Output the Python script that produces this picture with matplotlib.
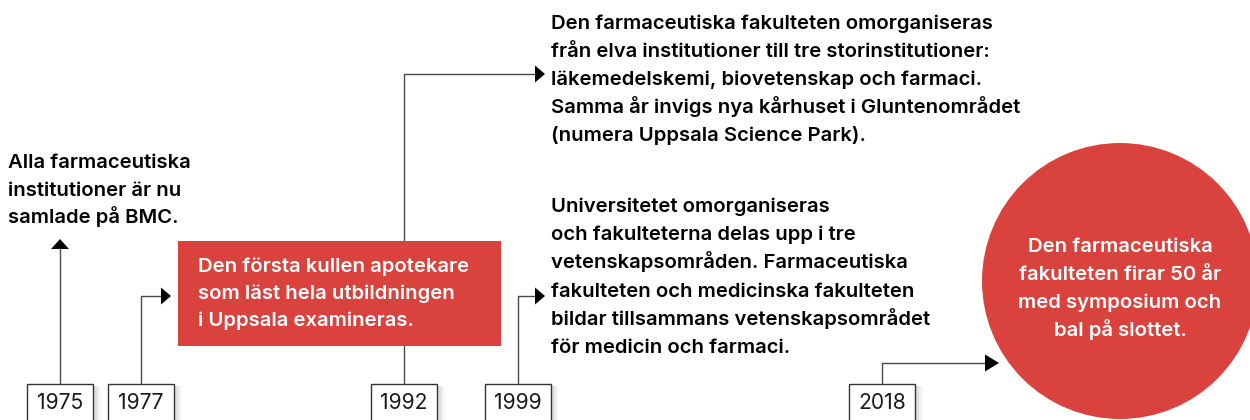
import matplotlib
matplotlib.use("Agg")
import matplotlib.pyplot as plt
from matplotlib.patches import Rectangle, Circle, Polygon

# ---- content ----
years = ["1975", "1977", "1992", "1999", "2018"]

text_1975 = ["Alla farmaceutiska", "institutioner är nu", "samlade på BMC."]
text_1977 = ["Den första kullen apotekare", "som läst hela utbildningen", "i Uppsala examineras."]
text_1992 = ["Den farmaceutiska fakulteten omorganiseras",
             "från elva institutioner till tre storinstitutioner:",
             "läkemedelskemi, biovetenskap och farmaci.",
             "Samma år invigs nya kårhuset i Gluntenområdet",
             "(numera Uppsala Science Park)."]
text_1999 = ["Universitetet omorganiseras",
             "och fakulteterna delas upp i tre",
             "vetenskapsområden. Farmaceutiska",
             "fakulteten och medicinska fakulteten",
             "bildar tillsammans vetenskapsområdet",
             "för medicin och farmaci."]
text_2018 = ["Den farmaceutiska", "fakulteten firar 50 år",
             "med symposium och", "bal på slottet."]

# ---- layout (pixel coordinates) ----
RED = "#D9423D"
LINE = "#4a4a4a"
FONT = ["Inter", "DejaVu Sans"]
FS = 14.6
WEIGHT = "semibold"
box_cx = [60, 141, 404, 518, 882]
box_w, box_top = 66, 384

fig = plt.figure(figsize=(12.5, 4.2), dpi=100)
ax = fig.add_axes([0, 0, 1, 1])
ax.set_xlim(0, 1250)
ax.set_ylim(420, 0)
ax.axis("off")


def head(tip, direction, length=10, half=8.5):
    x, y = tip
    if direction == "right":
        pts = [(x, y), (x - length, y - half), (x - length, y + half)]
    else:  # up
        pts = [(x, y), (x - half, y + length), (x + half, y + length)]
    ax.add_patch(Polygon(pts, closed=True, color="black", lw=0, zorder=5))


def lines(block, x, y0, dy, **kw):
    for i, s in enumerate(block):
        ax.text(x, y0 + i * dy, s, fontsize=FS, family=FONT, weight=WEIGHT,
                va="baseline", **kw)

# connectors
ax.plot([box_cx[0], box_cx[0]], [box_top, 248], color=LINE, lw=1.0, zorder=3)
head((box_cx[0], 239), "up", length=10, half=9)
ax.plot([box_cx[1], box_cx[1], 162], [box_top, 296, 296], color=LINE, lw=1.0, zorder=3)
head((171, 296), "right")
ax.plot([box_cx[2], box_cx[2], 536], [box_top, 74, 74], color=LINE, lw=1.0, zorder=1)
head((545, 74), "right")
ax.plot([box_cx[3], box_cx[3], 536], [box_top, 296, 296], color=LINE, lw=1.0, zorder=3)
head((545, 296), "right")
ax.plot([box_cx[4], box_cx[4], 986], [box_top, 363, 363], color=LINE, lw=1.0, zorder=3)
head((999, 363), "right", length=14)

# red rectangle (1977)
ax.add_patch(Rectangle((178, 241), 323, 105, color=RED, lw=0, zorder=2))
lines(text_1977, 198, 271.5, 27.5, color="white", zorder=4)

# red circle (2018)
ax.add_patch(Circle((1120, 281), 138, color=RED, lw=0, zorder=2))
for i, s in enumerate(text_2018):
    ax.text(1120, 251.5 + i * 28.3, s, fontsize=FS, family=FONT, weight=WEIGHT,
            va="baseline", ha="center", color="white", zorder=4)

# black text blocks
lines(text_1975, 8, 168.3, 27.3, color="black")
lines(text_1992, 551, 29, 28.1, color="black")
lines(text_1999, 551, 212, 28.2, color="black")

# year boxes with soft shadow
for cx, yr in zip(box_cx, years):
    x0 = cx - box_w / 2
    for k, a in zip([6, 4, 2], [0.025, 0.04, 0.06]):
        ax.add_patch(Rectangle((x0 + 2, box_top + 2), box_w + k, 60,
                               facecolor="black", alpha=a, lw=0, zorder=5))
    ax.add_patch(Rectangle((x0, box_top), box_w, 60, facecolor="white",
                           edgecolor="#333333", lw=1.0, zorder=6))
    ax.text(cx, 403, yr, fontsize=15.2, family=FONT, weight="normal",
            ha="center", va="center", color="#1a1a1a", zorder=7)

fig.savefig("out.png", dpi=100)
